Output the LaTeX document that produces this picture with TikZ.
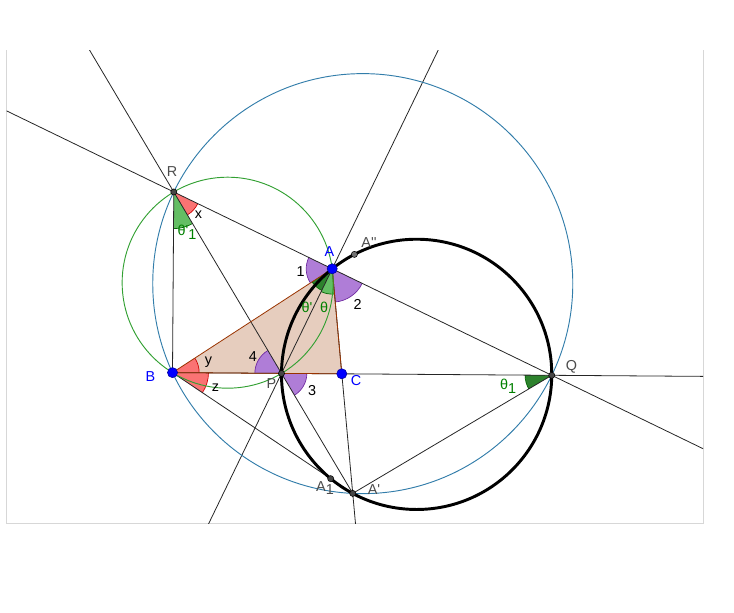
\documentclass[tikz,border=0pt]{standalone}
\usepackage{fontspec}
\setmainfont{Liberation Sans}
\usepackage{xcolor}
\usepackage{tikz}
\usetikzlibrary{calc,angles}

\definecolor{circblue}{RGB}{50,125,170}
\definecolor{circgreen}{RGB}{50,160,50}
\definecolor{tribrown}{RGB}{153,51,0}
\definecolor{tanfill}{RGB}{230,205,190}
\definecolor{angpurple}{RGB}{175,125,215}
\definecolor{purpleedge}{RGB}{110,40,160}
\definecolor{angred}{RGB}{250,115,115}
\definecolor{gdark}{RGB}{45,130,45}
\definecolor{glight}{RGB}{100,190,100}
\definecolor{gedge}{RGB}{0,100,0}
\definecolor{lblgreen}{RGB}{0,128,0}
\definecolor{ptgray}{RGB}{70,70,70}
\definecolor{framegray}{RGB}{215,215,215}

\newcommand{\qs}{\textquotesingle}
\newcommand{\lowidx}[1]{\raisebox{-0.5ex}{#1}}

\begin{document}
\begin{tikzpicture}[x=0.75pt, y=-0.75pt,
        every node/.style={font=\fontsize{10.8}{12}\selectfont, inner sep=1pt},
        thinline/.style={draw=black!85, line width=0.6pt},
        redang/.style={draw=red!80!black, fill=angred, line width=0.5pt},
        purpang/.style={draw=purpleedge, fill=angpurple, line width=0.5pt},
        gang/.style={draw=gedge, fill=#1, line width=0.5pt},
        gpt/.style={fill=ptgray, draw=black, line width=0.4pt},
        bpt/.style={fill=blue, draw=blue!60!black, line width=0.4pt},
        glbl/.style={text=black!70},
        blbl/.style={text=blue},
        grlbl/.style={text=lblgreen}]
                \useasboundingbox (0,0) rectangle (734,612);
                \draw[framegray] (6.5,50) -- (6.5,523) -- (703,523) -- (703,50);
                % triangle and the two bisectors from A
                \coordinate (B) at (172.5,372.6);
                \coordinate (C) at (341.8,373.8);
                \coordinate (A) at (332.2,268.8);
                \coordinate (Bu) at ($(A)!20pt!(B)$);
                \coordinate (Cu) at ($(A)!20pt!(C)$);
                \coordinate (Mi) at ($(Bu)!0.5!(Cu)$);
                \coordinate (Me) at ($(A)+(Bu)-(Cu)$);
                \coordinate (P) at (intersection of A--Mi and B--C);
                \coordinate (Q) at (intersection of A--Me and B--C);
                \coordinate (Bt) at ($(B)!1!90:(C)$);
                \coordinate (R) at (intersection of A--Q and B--Bt);
                \coordinate (Ap) at (intersection of A--C and R--P);
                \coordinate (Ha) at ($(B)!(A)!(C)$);
                \coordinate (Aone) at ($(A)!2!(Ha)$);
                \coordinate (Hp) at ($(B)!(Ap)!(C)$);
                \coordinate (App) at ($(Ap)!2!(Hp)$);
                \begin{scope}
                \clip (6.5,50) rectangle (703,523);
                \fill[tanfill] (A) -- (B) -- (C) -- cycle;
                % angle marks
                \pic[redang, angle radius=20pt] {angle=P--R--Q};
                \pic[gang=glight, angle radius=27.5pt] {angle=B--R--P};
                \pic[purpang, angle radius=19.5pt] {angle=R--A--B};
                \pic[purpang, angle radius=25pt] {angle=C--A--Q};
                \pic[gang=gdark, angle radius=18pt] {angle=B--A--P};
                \pic[gang=glight, angle radius=19pt] {angle=P--A--C};
                \pic[redang, angle radius=20pt] {angle=C--B--A};
                \pic[redang, angle radius=27pt] {angle=Ap--B--C};
                \pic[purpang, angle radius=20pt] {angle=R--P--B};
                \pic[purpang, angle radius=19pt] {angle=Ap--P--C};
                \pic[gang=gdark, angle radius=20pt] {angle=B--Q--Ap};
                % lines
                \draw[thinline, shorten <=-400pt, shorten >=-400pt] (R) -- (Q);
                \draw[thinline, shorten <=-400pt, shorten >=-400pt] (A) -- (P);
                \draw[thinline, shorten <=-400pt] (R) -- (Ap);
                \draw[thinline, shorten >=-400pt] (B) -- (Q);
                \draw[thinline, shorten >=-400pt] (A) -- (Ap);
                \draw[thinline] (R) -- (B);
                \draw[thinline] (B) -- (Ap) -- (Q);
                \draw[tribrown, line width=0.6pt] (A) -- (B) -- (C) -- cycle;
                % circles on the diameters RP, RQ and PQ
                \draw[circgreen, line width=0.7pt] let \p1=(R), \p2=(P), \n1={veclen(\x2-\x1,\y2-\y1)/2} in ($(R)!0.5!(P)$) circle[radius=\n1];
                \draw[circblue, line width=0.7pt] let \p1=(R), \p2=(Q), \n1={veclen(\x2-\x1,\y2-\y1)/2} in ($(R)!0.5!(Q)$) circle[radius=\n1];
                \draw[black, line width=2.2pt] let \p1=(P), \p2=(Q), \n1={veclen(\x2-\x1,\y2-\y1)/2} in ($(P)!0.5!(Q)$) circle[radius=\n1];
                \end{scope}
                % points
                \foreach \p in {R,P,Q,Ap,Aone}
                \filldraw[gpt] (\p) circle[radius=2.3pt];
                \filldraw[gpt, fill=black!55] (App) circle[radius=2.3pt];
                \foreach \p in {A,B,C}
                \filldraw[bpt] (\p) circle[radius=3.8pt];
                % labels
                \node[glbl] (lR) at (172,172) {R};
                \node[blbl] (lA) at (329.5,251.5) {A};
                \node[glbl] (lApp) at (369,243) {A\qs\qs};
                \node[blbl] (lB) at (150.5,376.5) {B};
                \node[glbl] (lP) at (271.5,384) {P};
                \node[blbl] (lC) at (356,381) {C};
                \node[glbl] (lQ) at (571.5,366.5) {Q};
                \node[glbl] (lAp) at (374,490) {A\qs};
                \node[glbl] (lAone) at (325,488) {A\lowidx{1}};
                \node (lx) at (198.5,215) {x};
                \node (ly) at (208.5,362.5) {y};
                \node (lz) at (215.5,388) {z};
                \node (lone) at (300.5,271.5) {1};
                \node (ltwo) at (357.5,304) {2};
                \node (lthree) at (312,391) {3};
                \node (lfour) at (253,356.5) {4};
                \node[grlbl] (ltR) at (187,232) {θ\qs\lowidx{1}};
                \node[grlbl] (ltp) at (307,307) {θ\qs};
                \node[grlbl] (lt) at (324,307) {θ};
                \node[grlbl] (ltQ) at (508,386) {θ\lowidx{1}};
            \end{tikzpicture}
\end{document}
